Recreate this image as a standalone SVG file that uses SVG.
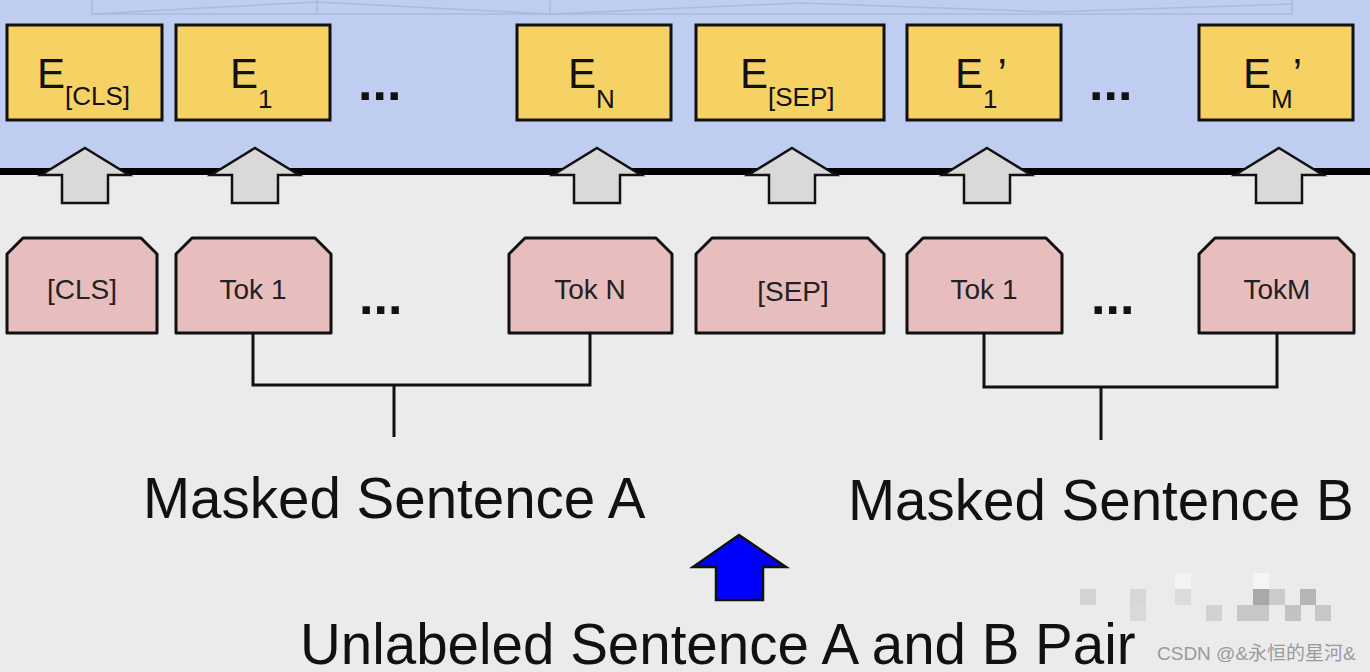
<svg xmlns="http://www.w3.org/2000/svg" width="1370" height="672" viewBox="0 0 1370 672">
<style>
.emb{fill:#f6d265;stroke:#111;stroke-width:3}
.tok{fill:#e7bdbd;stroke:#111;stroke-width:3;stroke-linejoin:round}
.up{fill:#d9d9d9;stroke:#111;stroke-width:2.5;stroke-linejoin:miter}
.conn{fill:none;stroke:#111;stroke-width:3}
.E{font-family:"Liberation Sans",Arial,sans-serif;font-size:42px;fill:#111}
.sub{font-size:26px}
.t{font-family:"Liberation Sans",Arial,sans-serif;font-size:28px;fill:#222;text-anchor:middle}
.big{font-family:"Liberation Sans",Arial,sans-serif;font-size:56.5px;fill:#111}
.dots{font-family:"Liberation Sans",Arial,sans-serif;font-size:52px;font-weight:bold;fill:#111}
</style>
<defs>
<path id="garrow" d="M0,-27 L44,0 L23,0 L23,28 L-23,28 L-23,0 L-44,0 Z"/>
</defs>
<rect x="0" y="0" width="1370" height="172" fill="#bfcdf1"/>
<rect x="0" y="172" width="1370" height="500" fill="#ebebeb"/>
<g fill="none" stroke="#a9b5d3" stroke-width="1.5" opacity="0.8">
<path d="M92,0 L92,14 L1292,14 L1292,0"/>
<path d="M92,14 L317,2 L550,14 L800,3 L1050,12 L1292,4"/>
<path d="M317,0 L317,14 M550,0 L550,14"/>
</g>
<rect x="0" y="168" width="1370" height="7" fill="#000"/>

<g id="arrows-gray">
<use href="#garrow" class="up" x="85" y="175"/>
<use href="#garrow" class="up" x="255" y="175"/>
<use href="#garrow" class="up" x="597" y="175"/>
<use href="#garrow" class="up" x="792" y="175"/>
<use href="#garrow" class="up" x="987" y="175"/>
<use href="#garrow" class="up" x="1279" y="175"/>
</g>

<g id="e-cls"><rect class="emb" x="7" y="25" width="155" height="95"/><text class="E" x="37" y="88">E<tspan class="sub" dy="17">[CLS]</tspan></text></g>
<g id="e-1"><rect class="emb" x="176" y="25" width="154" height="95"/><text class="E" x="230" y="88">E<tspan class="sub" font-size="30" dy="20">1</tspan></text></g>
<text class="dots" x="358" y="100">...</text>
<g id="e-n"><rect class="emb" x="517" y="25" width="154" height="95"/><text class="E" x="568" y="88">E<tspan class="sub" font-size="30" dy="20">N</tspan></text></g>
<g id="e-sep"><rect class="emb" x="696" y="25" width="188" height="95"/><text class="E" x="740" y="88">E<tspan class="sub" font-size="28" dy="18">[SEP]</tspan></text></g>
<g id="e-1b"><rect class="emb" x="907" y="25" width="154" height="95"/><text class="E" x="955" y="88">E<tspan class="sub" font-size="30" dy="20">1</tspan><tspan dy="-20">’</tspan></text></g>
<text class="dots" x="1089" y="100">...</text>
<g id="e-m"><rect class="emb" x="1199" y="25" width="154" height="95"/><text class="E" x="1243" y="88">E<tspan class="sub" font-size="30" dy="20">M</tspan><tspan dy="-20">’</tspan></text></g>

<g id="connectors">
<path class="conn" d="M253,333 V385 H590 V333 M394,385 V437"/>
<path class="conn" d="M984,333 V387 H1277 V333 M1101,387 V440"/>
</g>

<g id="tok-cls"><path class="tok" d="M7,333 V254 L23,238 H141 L157,254 V333 Z"/><text class="t" x="82" y="299">[CLS]</text></g>
<g id="tok-1"><path class="tok" d="M176,333 V254 L192,238 H315 L331,254 V333 Z"/><text class="t" x="253" y="299">Tok 1</text></g>
<text class="dots" x="359" y="314">...</text>
<g id="tok-n"><path class="tok" d="M509,333 V254 L525,238 H656 L672,254 V333 Z"/><text class="t" x="590" y="299">Tok N</text></g>
<g id="tok-sep"><path class="tok" d="M696,333 V254 L712,238 H868 L884,254 V333 Z"/><text class="t" x="793" y="301">[SEP]</text></g>
<g id="tok-1b"><path class="tok" d="M907,333 V254 L923,238 H1046 L1062,254 V333 Z"/><text class="t" x="984" y="299">Tok 1</text></g>
<text class="dots" x="1091" y="314">...</text>
<g id="tok-m"><path class="tok" d="M1199,333 V254 L1215,238 H1338 L1354,254 V333 Z"/><text class="t" x="1277" y="299">TokM</text></g>

<text class="big" x="143" y="518">Masked Sentence A</text>
<text class="big" x="848" y="520">Masked Sentence B</text>

<g id="blue-arrow"><path d="M739,535 L786,567 L763,567 L763,600 L716,600 L716,567 L693,567 Z" fill="#0000ff" stroke="#111" stroke-width="2.5"/></g>

<g id="mosaic" stroke="none">
<rect x="1175" y="573" width="16" height="16" fill="#f3f3f3"/>
<rect x="1253" y="573" width="16" height="16" fill="#f5f5f5"/>
<rect x="1080" y="589" width="16" height="16" fill="#d3d3d3"/>
<rect x="1130" y="589" width="16" height="16" fill="#d7d7d7"/>
<rect x="1175" y="589" width="16" height="16" fill="#dcdcdc"/>
<rect x="1253" y="589" width="16" height="16" fill="#a9a9a9"/>
<rect x="1269" y="589" width="16" height="16" fill="#cbcbcb"/>
<rect x="1300" y="589" width="16" height="16" fill="#b6b6b6"/>
<rect x="1130" y="605" width="16" height="16" fill="#d9d9d9"/>
<rect x="1206" y="605" width="16" height="16" fill="#d1d1d1"/>
<rect x="1237" y="605" width="32" height="16" fill="#c7c7c7"/>
<rect x="1285" y="605" width="16" height="16" fill="#c2c2c2"/>
<rect x="1315" y="605" width="16" height="16" fill="#c7c7c7"/>
</g>

<text class="big" x="300" y="664" font-size="57">Unlabeled Sentence A and B Pair</text>
<text x="1157" y="660" font-family="'Liberation Sans','Noto Sans CJK SC',sans-serif" font-size="19" fill="#9a9a9a">CSDN @&amp;永恒的星河&amp;</text>
</svg>
